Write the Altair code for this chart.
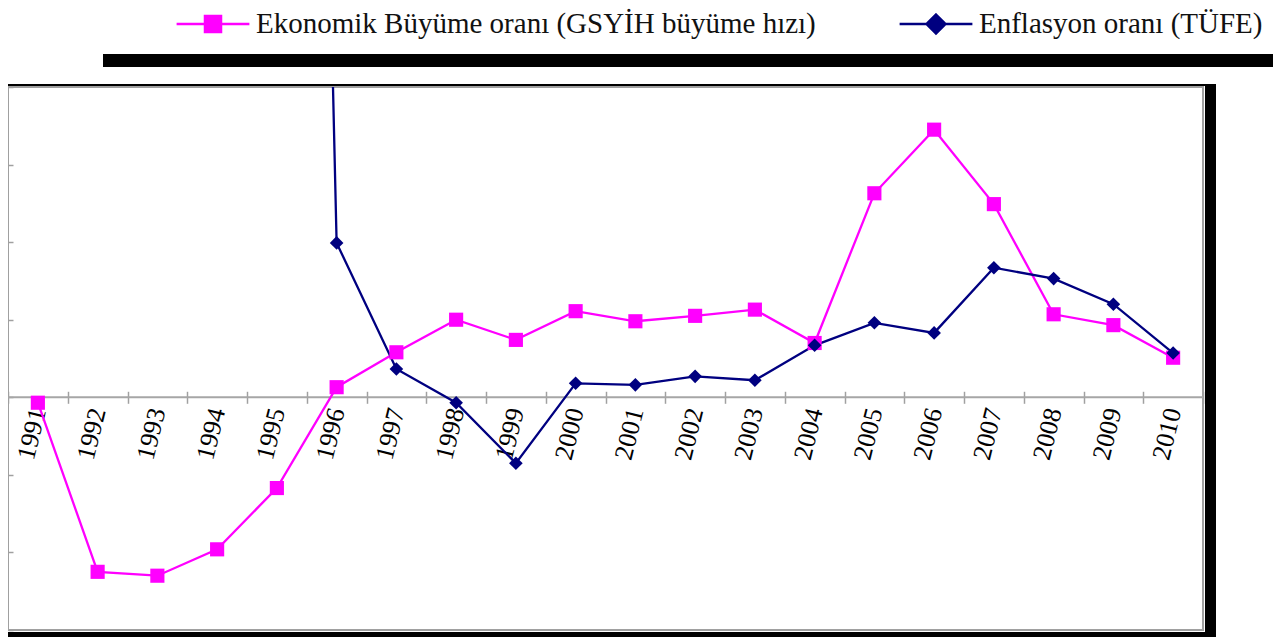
import altair as alt
import pandas as pd

years = [str(y) for y in range(1991, 2011)]
growth = [-0.7, -22.5, -23.0, -19.6, -11.7, 1.3, 5.8, 10.0, 7.4, 11.1,
          9.8, 10.5, 11.3, 7.0, 26.3, 34.5, 24.9, 10.7, 9.3, 5.1]
infl_years = [str(y) for y in range(1995, 2011)]
inflation = [350.0, 19.9, 3.65, -0.7, -8.5, 1.8, 1.6, 2.7, 2.2, 6.7,
             9.6, 8.3, 16.7, 15.3, 12.0, 5.7]

S1 = "Ekonomik Büyüme oranı (GSYİH büyüme hızı)"
S2 = "Enflasyon oranı (TÜFE)"
PINK = "#FF00FF"
NAVY = "#000080"

df_g = pd.DataFrame({"year": years, "value": growth, "series": S1})
df_i = pd.DataFrame({"year": infl_years, "value": inflation, "series": S2})

W, H = 1195, 543
YMIN, YMAX = -30, 40
zero_y = H * YMAX / (YMAX - YMIN)

SQ_PATH = "M-1,0H1M-0.22,-0.22H0.22V0.22H-0.22Z"
DM_PATH = "M-1,0H1M0,-0.26L0.26,0L0,0.26L-0.26,0Z"

xenc = alt.X("year:O", scale=alt.Scale(type="band", paddingInner=0, paddingOuter=0, domain=years),
             axis=alt.Axis(title=None, domain=False, tickBand="extent", tickSize=12,
                           tickColor="#a0a0a0", tickWidth=1.5,
                           offset=-(H - zero_y) - 6, labelAngle=284, labelPadding=5,
                           labelFont="Liberation Serif", labelFontSize=26, labelColor="#000"))
yenc = alt.Y("value:Q", scale=alt.Scale(domain=[YMIN, YMAX], nice=False, zero=False),
             axis=alt.Axis(title=None, labels=False, domain=False, grid=False,
                           values=list(range(YMIN, YMAX + 1, 10)), tickSize=5, offset=-5,
                           tickColor="#a0a0a0", tickWidth=1.5))


def legend(x, path, col):
    return alt.Legend(orient="none", legendX=x, legendY=-101, direction="horizontal",
                      title=None, symbolType=path, symbolSize=5300,
                      symbolStrokeWidth=2.5, symbolFillColor=col, symbolStrokeColor=col,
                      symbolOpacity=1, labelFont="Liberation Serif",
                      labelFontSize=29, labelColor="#111", labelOffset=5, labelLimit=1000)


line_g = alt.Chart(df_g).mark_line(strokeWidth=2.3, clip=True).encode(
    x=xenc, y=yenc,
    color=alt.Color("series:N", scale=alt.Scale(domain=[S1], range=[PINK]),
                    legend=legend(167, SQ_PATH, PINK)))
line_i = alt.Chart(df_i).mark_line(strokeWidth=2.3, clip=True).encode(
    x=xenc, y=yenc,
    color=alt.Color("series:N", scale=alt.Scale(domain=[S2], range=[NAVY]),
                    legend=legend(890, DM_PATH, NAVY)))
pts_g = alt.Chart(df_g).mark_point(
    shape="square", filled=True, size=200, opacity=1, clip=True, color=PINK).encode(x="year:O", y="value:Q")
pts_i = alt.Chart(df_i).mark_point(
    shape="diamond", filled=True, size=185, opacity=1, clip=True, color=NAVY).encode(x="year:O", y="value:Q")

zero_rule = alt.Chart(pd.DataFrame({"z": [0]})).mark_rule(color="#a6a6a6", strokeWidth=2).encode(y=alt.Y("z:Q"))

deco = pd.DataFrame({"a": [0]})
top_bar = alt.Chart(deco).mark_rule(color="black", strokeWidth=13).encode(
    x=alt.value(95), x2=alt.value(1265), y=alt.value(-26.5))
top_line = alt.Chart(deco).mark_rule(color="black", strokeWidth=2).encode(
    x=alt.value(0), x2=alt.value(1208), y=alt.value(-2))
right_bar = alt.Chart(deco).mark_rule(color="black", strokeWidth=11).encode(
    x=alt.value(1202.5), y=alt.value(-3), y2=alt.value(551))
bottom_bar = alt.Chart(deco).mark_rule(color="black", strokeWidth=6).encode(
    x=alt.value(0), x2=alt.value(1208), y=alt.value(548))

chart = alt.layer(zero_rule, line_g, line_i, pts_g, pts_i, top_bar, top_line, right_bar, bottom_bar).resolve_scale(
    color="independent"
).properties(
    width=W, height=H,
    autosize=alt.AutoSizeParams(type="none"),
    padding={"left": 0, "top": 79, "right": 70, "bottom": 8},
    background="white",
).configure_view(stroke="#a0a0a0", strokeWidth=2)

chart.save("out.html", embed_options={"renderer": "svg", "actions": False})
